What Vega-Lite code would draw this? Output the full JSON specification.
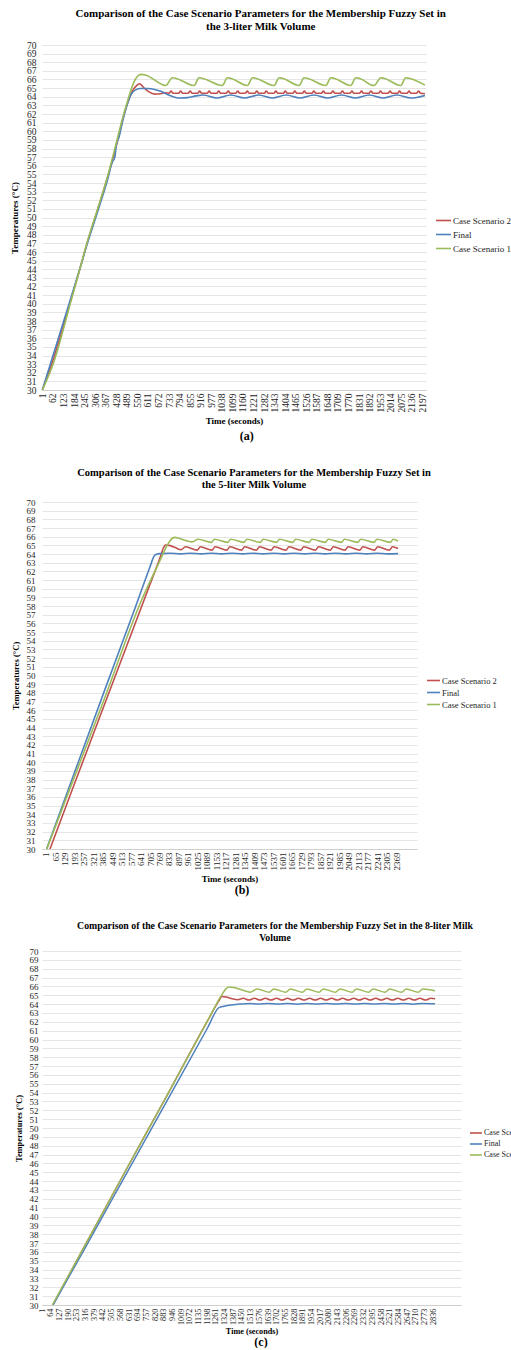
{
  "$schema": "https://vega.github.io/schema/vega-lite/v6.json",
  "background": "white",
  "padding": {"left": 10, "top": 8, "right": 0, "bottom": 0},
  "spacing": 25,
  "config": {
    "font": "Liberation Serif",
    "view": {"stroke": null},
    "title": {"font": "Liberation Serif", "fontWeight": "bold", "color": "black", "anchor": "middle"},
    "axis": {"labelFont": "Liberation Serif", "titleFont": "Liberation Serif", "labelColor": "#262626", "titleColor": "black", "titleFontWeight": "bold"},
    "legend": {"labelFont": "Liberation Serif", "labelColor": "#262626", "symbolType": "stroke", "symbolStrokeWidth": 1.6, "rowPadding": 0, "labelOffset": 1, "padding": 0, "title": null}
  },
  "resolve": {"scale": {"color": "independent"}, "legend": {"color": "independent"}},
  "datasets": {
    "a": [
      {"s":"Case Scenario 2","t":1,"v":30},{"s":"Case Scenario 2","t":60,"v":33.3},{"s":"Case Scenario 2","t":165,"v":40.4},{"s":"Case Scenario 2","t":223,"v":44.4},{"s":"Case Scenario 2","t":261,"v":47.1},{"s":"Case Scenario 2","t":319,"v":50.8},{"s":"Case Scenario 2","t":377,"v":54.6},{"s":"Case Scenario 2","t":415,"v":57.3},{"s":"Case Scenario 2","t":440,"v":59.2},{"s":"Case Scenario 2","t":465,"v":61.3},{"s":"Case Scenario 2","t":492,"v":63.2},{"s":"Case Scenario 2","t":520,"v":64.6},{"s":"Case Scenario 2","t":545,"v":65.3},{"s":"Case Scenario 2","t":563,"v":65.5},{"s":"Case Scenario 2","t":585,"v":65.1},{"s":"Case Scenario 2","t":615,"v":64.6},{"s":"Case Scenario 2","t":650,"v":64.3},{"s":"Case Scenario 2","t":685,"v":64.35},{"s":"Case Scenario 2","t":714,"v":64.45},
      {"s":"Case Scenario 2","t":733,"v":64.4},{"s":"Case Scenario 2","t":745,"v":64.65},{"s":"Case Scenario 2","t":757,"v":64.4},
      {"s":"Case Scenario 2","t":788,"v":64.4},{"s":"Case Scenario 2","t":800,"v":64.65},{"s":"Case Scenario 2","t":812,"v":64.4},
      {"s":"Case Scenario 2","t":843,"v":64.4},{"s":"Case Scenario 2","t":855,"v":64.65},{"s":"Case Scenario 2","t":867,"v":64.4},
      {"s":"Case Scenario 2","t":898,"v":64.4},{"s":"Case Scenario 2","t":910,"v":64.65},{"s":"Case Scenario 2","t":922,"v":64.4},
      {"s":"Case Scenario 2","t":953,"v":64.4},{"s":"Case Scenario 2","t":965,"v":64.65},{"s":"Case Scenario 2","t":977,"v":64.4},
      {"s":"Case Scenario 2","t":1008,"v":64.4},{"s":"Case Scenario 2","t":1020,"v":64.65},{"s":"Case Scenario 2","t":1032,"v":64.4},
      {"s":"Case Scenario 2","t":1063,"v":64.4},{"s":"Case Scenario 2","t":1075,"v":64.65},{"s":"Case Scenario 2","t":1087,"v":64.4},
      {"s":"Case Scenario 2","t":1118,"v":64.4},{"s":"Case Scenario 2","t":1130,"v":64.65},{"s":"Case Scenario 2","t":1142,"v":64.4},
      {"s":"Case Scenario 2","t":1173,"v":64.4},{"s":"Case Scenario 2","t":1185,"v":64.65},{"s":"Case Scenario 2","t":1197,"v":64.4},
      {"s":"Case Scenario 2","t":1228,"v":64.4},{"s":"Case Scenario 2","t":1240,"v":64.65},{"s":"Case Scenario 2","t":1252,"v":64.4},
      {"s":"Case Scenario 2","t":1283,"v":64.4},{"s":"Case Scenario 2","t":1295,"v":64.65},{"s":"Case Scenario 2","t":1307,"v":64.4},
      {"s":"Case Scenario 2","t":1338,"v":64.4},{"s":"Case Scenario 2","t":1350,"v":64.65},{"s":"Case Scenario 2","t":1362,"v":64.4},
      {"s":"Case Scenario 2","t":1393,"v":64.4},{"s":"Case Scenario 2","t":1405,"v":64.65},{"s":"Case Scenario 2","t":1417,"v":64.4},
      {"s":"Case Scenario 2","t":1448,"v":64.4},{"s":"Case Scenario 2","t":1460,"v":64.65},{"s":"Case Scenario 2","t":1472,"v":64.4},
      {"s":"Case Scenario 2","t":1503,"v":64.4},{"s":"Case Scenario 2","t":1515,"v":64.65},{"s":"Case Scenario 2","t":1527,"v":64.4},
      {"s":"Case Scenario 2","t":1558,"v":64.4},{"s":"Case Scenario 2","t":1570,"v":64.65},{"s":"Case Scenario 2","t":1582,"v":64.4},
      {"s":"Case Scenario 2","t":1613,"v":64.4},{"s":"Case Scenario 2","t":1625,"v":64.65},{"s":"Case Scenario 2","t":1637,"v":64.4},
      {"s":"Case Scenario 2","t":1668,"v":64.4},{"s":"Case Scenario 2","t":1680,"v":64.65},{"s":"Case Scenario 2","t":1692,"v":64.4},
      {"s":"Case Scenario 2","t":1723,"v":64.4},{"s":"Case Scenario 2","t":1735,"v":64.65},{"s":"Case Scenario 2","t":1747,"v":64.4},
      {"s":"Case Scenario 2","t":1778,"v":64.4},{"s":"Case Scenario 2","t":1790,"v":64.65},{"s":"Case Scenario 2","t":1802,"v":64.4},
      {"s":"Case Scenario 2","t":1833,"v":64.4},{"s":"Case Scenario 2","t":1845,"v":64.65},{"s":"Case Scenario 2","t":1857,"v":64.4},
      {"s":"Case Scenario 2","t":1888,"v":64.4},{"s":"Case Scenario 2","t":1900,"v":64.65},{"s":"Case Scenario 2","t":1912,"v":64.4},
      {"s":"Case Scenario 2","t":1943,"v":64.4},{"s":"Case Scenario 2","t":1955,"v":64.65},{"s":"Case Scenario 2","t":1967,"v":64.4},
      {"s":"Case Scenario 2","t":1998,"v":64.4},{"s":"Case Scenario 2","t":2010,"v":64.65},{"s":"Case Scenario 2","t":2022,"v":64.4},
      {"s":"Case Scenario 2","t":2053,"v":64.4},{"s":"Case Scenario 2","t":2065,"v":64.65},{"s":"Case Scenario 2","t":2077,"v":64.4},
      {"s":"Case Scenario 2","t":2108,"v":64.4},{"s":"Case Scenario 2","t":2120,"v":64.65},{"s":"Case Scenario 2","t":2132,"v":64.4},
      {"s":"Case Scenario 2","t":2163,"v":64.4},{"s":"Case Scenario 2","t":2175,"v":64.65},{"s":"Case Scenario 2","t":2187,"v":64.4},
      {"s":"Case Scenario 2","t":2212,"v":64.35},
      {"s":"Final","t":1,"v":30},{"s":"Final","t":55,"v":33.5},{"s":"Final","t":160,"v":40.3},{"s":"Final","t":220,"v":44.2},{"s":"Final","t":258,"v":46.8},{"s":"Final","t":316,"v":50.4},{"s":"Final","t":374,"v":54.1},{"s":"Final","t":405,"v":56.4},{"s":"Final","t":420,"v":57.0},{"s":"Final","t":428,"v":58.4},{"s":"Final","t":445,"v":59.4},{"s":"Final","t":465,"v":61.2},{"s":"Final","t":490,"v":63.0},{"s":"Final","t":515,"v":64.3},{"s":"Final","t":540,"v":64.8},{"s":"Final","t":570,"v":64.95},{"s":"Final","t":610,"v":64.95},{"s":"Final","t":650,"v":64.85},{"s":"Final","t":690,"v":64.6},{"s":"Final","t":730,"v":64.2},{"s":"Final","t":765,"v":63.95},{"s":"Final","t":800,"v":63.85},{"s":"Final","t":840,"v":63.9},{"s":"Final","t":890,"v":64.1},{"s":"Final","t":930,"v":64.2},{"s":"Final","t":1010,"v":63.85},{"s":"Final","t":1090,"v":64.2},{"s":"Final","t":1170,"v":63.85},{"s":"Final","t":1250,"v":64.2},{"s":"Final","t":1330,"v":63.85},{"s":"Final","t":1410,"v":64.2},{"s":"Final","t":1490,"v":63.85},{"s":"Final","t":1570,"v":64.2},{"s":"Final","t":1650,"v":63.85},{"s":"Final","t":1730,"v":64.2},{"s":"Final","t":1810,"v":63.85},{"s":"Final","t":1890,"v":64.2},{"s":"Final","t":1970,"v":63.85},{"s":"Final","t":2050,"v":64.2},{"s":"Final","t":2130,"v":63.85},{"s":"Final","t":2212,"v":64.15},
      {"s":"Case Scenario 1","t":1,"v":30},{"s":"Case Scenario 1","t":65,"v":33.1},{"s":"Case Scenario 1","t":165,"v":40.2},{"s":"Case Scenario 1","t":223,"v":44.4},{"s":"Case Scenario 1","t":261,"v":47.2},{"s":"Case Scenario 1","t":319,"v":50.9},{"s":"Case Scenario 1","t":377,"v":54.7},{"s":"Case Scenario 1","t":410,"v":57.2},{"s":"Case Scenario 1","t":434,"v":59.1},{"s":"Case Scenario 1","t":463,"v":61.4},{"s":"Case Scenario 1","t":492,"v":63.4},{"s":"Case Scenario 1","t":515,"v":64.9},{"s":"Case Scenario 1","t":535,"v":65.9},{"s":"Case Scenario 1","t":555,"v":66.45},{"s":"Case Scenario 1","t":575,"v":66.6},{"s":"Case Scenario 1","t":600,"v":66.5},{"s":"Case Scenario 1","t":714,"v":65.3},
      {"s":"Case Scenario 1","t":752,"v":66.2},{"s":"Case Scenario 1","t":770,"v":66.15},{"s":"Case Scenario 1","t":878,"v":65.3},
      {"s":"Case Scenario 1","t":906,"v":66.2},{"s":"Case Scenario 1","t":924,"v":66.15},{"s":"Case Scenario 1","t":1041,"v":65.3},
      {"s":"Case Scenario 1","t":1070,"v":66.2},{"s":"Case Scenario 1","t":1088,"v":66.15},{"s":"Case Scenario 1","t":1186,"v":65.3},
      {"s":"Case Scenario 1","t":1215,"v":66.2},{"s":"Case Scenario 1","t":1233,"v":66.15},{"s":"Case Scenario 1","t":1340,"v":65.3},
      {"s":"Case Scenario 1","t":1369,"v":66.2},{"s":"Case Scenario 1","t":1387,"v":66.15},{"s":"Case Scenario 1","t":1485,"v":65.3},
      {"s":"Case Scenario 1","t":1513,"v":66.2},{"s":"Case Scenario 1","t":1531,"v":66.15},{"s":"Case Scenario 1","t":1639,"v":65.3},
      {"s":"Case Scenario 1","t":1668,"v":66.2},{"s":"Case Scenario 1","t":1686,"v":66.15},{"s":"Case Scenario 1","t":1783,"v":65.3},
      {"s":"Case Scenario 1","t":1812,"v":66.2},{"s":"Case Scenario 1","t":1830,"v":66.15},{"s":"Case Scenario 1","t":1918,"v":65.3},
      {"s":"Case Scenario 1","t":1957,"v":66.2},{"s":"Case Scenario 1","t":1975,"v":66.15},{"s":"Case Scenario 1","t":2072,"v":65.3},
      {"s":"Case Scenario 1","t":2101,"v":66.2},{"s":"Case Scenario 1","t":2119,"v":66.15},{"s":"Case Scenario 1","t":2212,"v":65.35}
    ],
    "b": [
      {"s":"Case Scenario 2","t":28,"v":30},{"s":"Case Scenario 2","t":200,"v":37.8},{"s":"Case Scenario 2","t":400,"v":46.8},{"s":"Case Scenario 2","t":600,"v":55.8},{"s":"Case Scenario 2","t":700,"v":60.3},{"s":"Case Scenario 2","t":779,"v":63.9},{"s":"Case Scenario 2","t":795,"v":64.7},{"s":"Case Scenario 2","t":810,"v":65.05},{"s":"Case Scenario 2","t":835,"v":65.0},{"s":"Case Scenario 2","t":875,"v":64.75},{"s":"Case Scenario 2","t":915,"v":64.5},{"s":"Case Scenario 2","t":945,"v":64.85},
      {"s":"Case Scenario 2","t":1025,"v":64.45},{"s":"Case Scenario 2","t":1045,"v":64.85},{"s":"Case Scenario 2","t":1125,"v":64.45},{"s":"Case Scenario 2","t":1145,"v":64.85},{"s":"Case Scenario 2","t":1225,"v":64.45},{"s":"Case Scenario 2","t":1245,"v":64.85},{"s":"Case Scenario 2","t":1325,"v":64.45},{"s":"Case Scenario 2","t":1345,"v":64.85},{"s":"Case Scenario 2","t":1425,"v":64.45},{"s":"Case Scenario 2","t":1445,"v":64.85},{"s":"Case Scenario 2","t":1525,"v":64.45},{"s":"Case Scenario 2","t":1545,"v":64.85},{"s":"Case Scenario 2","t":1625,"v":64.45},{"s":"Case Scenario 2","t":1645,"v":64.85},{"s":"Case Scenario 2","t":1725,"v":64.45},{"s":"Case Scenario 2","t":1745,"v":64.85},{"s":"Case Scenario 2","t":1825,"v":64.45},{"s":"Case Scenario 2","t":1845,"v":64.85},{"s":"Case Scenario 2","t":1925,"v":64.45},{"s":"Case Scenario 2","t":1945,"v":64.85},{"s":"Case Scenario 2","t":2025,"v":64.45},{"s":"Case Scenario 2","t":2045,"v":64.85},{"s":"Case Scenario 2","t":2125,"v":64.45},{"s":"Case Scenario 2","t":2145,"v":64.85},{"s":"Case Scenario 2","t":2225,"v":64.45},{"s":"Case Scenario 2","t":2245,"v":64.85},{"s":"Case Scenario 2","t":2325,"v":64.45},{"s":"Case Scenario 2","t":2345,"v":64.85},{"s":"Case Scenario 2","t":2383,"v":64.65},
      {"s":"Final","t":5,"v":30},{"s":"Final","t":200,"v":39.1},{"s":"Final","t":400,"v":48.4},{"s":"Final","t":600,"v":57.6},{"s":"Final","t":700,"v":62.3},{"s":"Final","t":734,"v":63.8},{"s":"Final","t":752,"v":64.0},{"s":"Final","t":775,"v":64.05},{"s":"Final","t":840,"v":64.1},{"s":"Final","t":910,"v":64.02},{"s":"Final","t":980,"v":64.1},{"s":"Final","t":1050,"v":64.02},{"s":"Final","t":1120,"v":64.1},{"s":"Final","t":1190,"v":64.02},{"s":"Final","t":1260,"v":64.1},{"s":"Final","t":1330,"v":64.02},{"s":"Final","t":1400,"v":64.1},{"s":"Final","t":1470,"v":64.02},{"s":"Final","t":1540,"v":64.1},{"s":"Final","t":1610,"v":64.02},{"s":"Final","t":1680,"v":64.1},{"s":"Final","t":1750,"v":64.02},{"s":"Final","t":1820,"v":64.1},{"s":"Final","t":1890,"v":64.02},{"s":"Final","t":1960,"v":64.1},{"s":"Final","t":2030,"v":64.02},{"s":"Final","t":2100,"v":64.1},{"s":"Final","t":2170,"v":64.02},{"s":"Final","t":2240,"v":64.1},{"s":"Final","t":2310,"v":64.02},{"s":"Final","t":2383,"v":64.05},
      {"s":"Case Scenario 1","t":6,"v":30},{"s":"Case Scenario 1","t":200,"v":38.6},{"s":"Case Scenario 1","t":400,"v":47.5},{"s":"Case Scenario 1","t":648,"v":58.7},{"s":"Case Scenario 1","t":760,"v":62.8},{"s":"Case Scenario 1","t":835,"v":65.4},{"s":"Case Scenario 1","t":858,"v":65.85},{"s":"Case Scenario 1","t":875,"v":65.92},{"s":"Case Scenario 1","t":900,"v":65.82},{"s":"Case Scenario 1","t":950,"v":65.55},{"s":"Case Scenario 1","t":990,"v":65.4},{"s":"Case Scenario 1","t":1030,"v":65.7},{"s":"Case Scenario 1","t":1120,"v":65.35},{"s":"Case Scenario 1","t":1140,"v":65.7},{"s":"Case Scenario 1","t":1230,"v":65.35},{"s":"Case Scenario 1","t":1250,"v":65.7},{"s":"Case Scenario 1","t":1340,"v":65.35},{"s":"Case Scenario 1","t":1360,"v":65.7},{"s":"Case Scenario 1","t":1450,"v":65.35},{"s":"Case Scenario 1","t":1470,"v":65.7},{"s":"Case Scenario 1","t":1560,"v":65.35},{"s":"Case Scenario 1","t":1580,"v":65.7},{"s":"Case Scenario 1","t":1670,"v":65.35},{"s":"Case Scenario 1","t":1690,"v":65.7},{"s":"Case Scenario 1","t":1780,"v":65.35},{"s":"Case Scenario 1","t":1800,"v":65.7},{"s":"Case Scenario 1","t":1890,"v":65.35},{"s":"Case Scenario 1","t":1910,"v":65.7},{"s":"Case Scenario 1","t":2000,"v":65.35},{"s":"Case Scenario 1","t":2020,"v":65.7},{"s":"Case Scenario 1","t":2110,"v":65.35},{"s":"Case Scenario 1","t":2130,"v":65.7},{"s":"Case Scenario 1","t":2220,"v":65.35},{"s":"Case Scenario 1","t":2240,"v":65.7},{"s":"Case Scenario 1","t":2330,"v":65.35},{"s":"Case Scenario 1","t":2350,"v":65.7},{"s":"Case Scenario 1","t":2383,"v":65.5}
    ],
    "c": [
      {"s":"Case Scenario 2","t":78,"v":30},{"s":"Case Scenario 2","t":300,"v":36.4},{"s":"Case Scenario 2","t":600,"v":45.0},{"s":"Case Scenario 2","t":900,"v":53.5},{"s":"Case Scenario 2","t":1200,"v":62.1},{"s":"Case Scenario 2","t":1280,"v":64.3},{"s":"Case Scenario 2","t":1305,"v":64.85},{"s":"Case Scenario 2","t":1335,"v":64.8},{"s":"Case Scenario 2","t":1380,"v":64.6},{"s":"Case Scenario 2","t":1420,"v":64.5},
      {"s":"Case Scenario 2","t":1460,"v":64.65},{"s":"Case Scenario 2","t":1500,"v":64.45},{"s":"Case Scenario 2","t":1540,"v":64.65},{"s":"Case Scenario 2","t":1580,"v":64.45},{"s":"Case Scenario 2","t":1620,"v":64.65},{"s":"Case Scenario 2","t":1660,"v":64.45},{"s":"Case Scenario 2","t":1700,"v":64.65},{"s":"Case Scenario 2","t":1740,"v":64.45},{"s":"Case Scenario 2","t":1780,"v":64.65},{"s":"Case Scenario 2","t":1820,"v":64.45},{"s":"Case Scenario 2","t":1860,"v":64.65},{"s":"Case Scenario 2","t":1900,"v":64.45},{"s":"Case Scenario 2","t":1940,"v":64.65},{"s":"Case Scenario 2","t":1980,"v":64.45},{"s":"Case Scenario 2","t":2020,"v":64.65},{"s":"Case Scenario 2","t":2060,"v":64.45},{"s":"Case Scenario 2","t":2100,"v":64.65},{"s":"Case Scenario 2","t":2140,"v":64.45},{"s":"Case Scenario 2","t":2180,"v":64.65},{"s":"Case Scenario 2","t":2220,"v":64.45},{"s":"Case Scenario 2","t":2260,"v":64.65},{"s":"Case Scenario 2","t":2300,"v":64.45},{"s":"Case Scenario 2","t":2340,"v":64.65},{"s":"Case Scenario 2","t":2380,"v":64.45},{"s":"Case Scenario 2","t":2420,"v":64.65},{"s":"Case Scenario 2","t":2460,"v":64.45},{"s":"Case Scenario 2","t":2500,"v":64.65},{"s":"Case Scenario 2","t":2540,"v":64.45},{"s":"Case Scenario 2","t":2580,"v":64.65},{"s":"Case Scenario 2","t":2620,"v":64.45},{"s":"Case Scenario 2","t":2660,"v":64.65},{"s":"Case Scenario 2","t":2700,"v":64.45},{"s":"Case Scenario 2","t":2740,"v":64.65},{"s":"Case Scenario 2","t":2780,"v":64.45},{"s":"Case Scenario 2","t":2820,"v":64.65},{"s":"Case Scenario 2","t":2850,"v":64.6},
      {"s":"Final","t":80,"v":30},{"s":"Final","t":300,"v":36.1},{"s":"Final","t":600,"v":44.5},{"s":"Final","t":900,"v":52.9},{"s":"Final","t":1200,"v":61.3},{"s":"Final","t":1283,"v":63.6},{"s":"Final","t":1320,"v":63.75},{"s":"Final","t":1370,"v":63.9},{"s":"Final","t":1430,"v":64.0},{"s":"Final","t":1500,"v":64.08},{"s":"Final","t":1570,"v":64.0},{"s":"Final","t":1640,"v":64.08},{"s":"Final","t":1710,"v":64.0},{"s":"Final","t":1780,"v":64.08},{"s":"Final","t":1850,"v":63.98},{"s":"Final","t":1920,"v":64.08},{"s":"Final","t":1990,"v":64.0},{"s":"Final","t":2060,"v":64.08},{"s":"Final","t":2130,"v":64.0},{"s":"Final","t":2200,"v":64.08},{"s":"Final","t":2270,"v":64.0},{"s":"Final","t":2340,"v":64.08},{"s":"Final","t":2410,"v":64.0},{"s":"Final","t":2480,"v":64.08},{"s":"Final","t":2550,"v":64.0},{"s":"Final","t":2620,"v":64.08},{"s":"Final","t":2690,"v":63.98},{"s":"Final","t":2760,"v":64.08},{"s":"Final","t":2850,"v":64.05},
      {"s":"Case Scenario 1","t":75,"v":30},{"s":"Case Scenario 1","t":300,"v":36.4},{"s":"Case Scenario 1","t":600,"v":45.0},{"s":"Case Scenario 1","t":900,"v":53.5},{"s":"Case Scenario 1","t":1200,"v":62.1},{"s":"Case Scenario 1","t":1300,"v":64.95},{"s":"Case Scenario 1","t":1335,"v":65.75},{"s":"Case Scenario 1","t":1360,"v":65.92},{"s":"Case Scenario 1","t":1390,"v":65.88},{"s":"Case Scenario 1","t":1450,"v":65.6},{"s":"Case Scenario 1","t":1510,"v":65.35},{"s":"Case Scenario 1","t":1560,"v":65.7},{"s":"Case Scenario 1","t":1650,"v":65.35},{"s":"Case Scenario 1","t":1680,"v":65.7},{"s":"Case Scenario 1","t":1770,"v":65.35},{"s":"Case Scenario 1","t":1800,"v":65.7},{"s":"Case Scenario 1","t":1890,"v":65.35},{"s":"Case Scenario 1","t":1920,"v":65.7},{"s":"Case Scenario 1","t":2010,"v":65.35},{"s":"Case Scenario 1","t":2040,"v":65.7},{"s":"Case Scenario 1","t":2130,"v":65.35},{"s":"Case Scenario 1","t":2160,"v":65.7},{"s":"Case Scenario 1","t":2250,"v":65.35},{"s":"Case Scenario 1","t":2280,"v":65.7},{"s":"Case Scenario 1","t":2370,"v":65.35},{"s":"Case Scenario 1","t":2400,"v":65.7},{"s":"Case Scenario 1","t":2490,"v":65.35},{"s":"Case Scenario 1","t":2520,"v":65.7},{"s":"Case Scenario 1","t":2610,"v":65.35},{"s":"Case Scenario 1","t":2640,"v":65.7},{"s":"Case Scenario 1","t":2730,"v":65.35},{"s":"Case Scenario 1","t":2760,"v":65.7},{"s":"Case Scenario 1","t":2850,"v":65.5}
    ]
  },
  "vconcat": [
    {
      "title": {"text": "(a)", "orient": "bottom", "anchor": "middle", "fontSize": 12, "offset": 6, "frame": "bounds", "dx": -14},
      "resolve": {"scale": {"color": "independent"}, "legend": {"color": "independent"}},
      "vconcat": [
        {
          "width": 384, "height": 345,
          "title": {"text": ["Comparison of the Case Scenario Parameters for the Membership Fuzzy Set in", "the 3-liter Milk Volume"], "anchor": "middle", "fontSize": 11, "lineHeight": 13, "offset": 8, "frame": "bounds"},
          "data": {"name": "a"},
          "mark": {"type": "line", "strokeWidth": 1.6, "interpolate": "monotone"},
          "encoding": {
            "x": {"field": "t", "type": "quantitative", "scale": {"domain": [-1, 2218], "nice": false, "zero": false},
              "axis": {"values": [1,62,123,184,245,306,367,428,489,550,611,672,733,794,855,916,977,1038,1099,1160,1221,1282,1343,1404,1465,1526,1587,1648,1709,1770,1831,1892,1953,2014,2075,2136,2197],
                "format": "d", "labelAngle": -90, "labelOverlap": false, "labelBound": false, "labelFlush": false, "labelFont": "Liberation Serif", "labelFontSize": 9.5, "labelPadding": 3,
                "grid": false, "ticks": false, "domain": true, "domainColor": "#cfcfcf", "domainWidth": 1.2,
                "title": "Time (seconds)", "titleFont": "Liberation Serif", "titleFontSize": 9, "titlePadding": 4}},
            "y": {"field": "v", "type": "quantitative", "scale": {"domain": [30, 70], "nice": false, "zero": false},
              "axis": {"values": [30,31,32,33,34,35,36,37,38,39,40,41,42,43,44,45,46,47,48,49,50,51,52,53,54,55,56,57,58,59,60,61,62,63,64,65,66,67,68,69,70],
                "format": "d", "labelOverlap": false, "labelFont": "Liberation Serif", "labelFontSize": 9.5, "labelPadding": 6, "grid": true, "gridColor": "#dedede", "gridWidth": 0.8,
                "ticks": false, "domain": false, "title": "Temperatures (°C)", "titleFont": "Liberation Serif", "titleFontSize": 9, "titlePadding": 7}},
            "color": {"field": "s", "type": "nominal",
              "scale": {"domain": ["Case Scenario 2", "Final", "Case Scenario 1"], "range": ["#C0504D", "#4F81BD", "#9BBB59"]},
              "legend": {"orient": "none", "legendX": 393, "legendY": 167, "labelFont": "Liberation Serif", "labelFontSize": 9, "symbolSize": 225}}
          }
        }
      ]
    },
    {
      "title": {"text": "(b)", "orient": "bottom", "anchor": "middle", "fontSize": 12, "offset": 2, "frame": "bounds", "dx": -12},
      "resolve": {"scale": {"color": "independent"}, "legend": {"color": "independent"}},
      "vconcat": [
        {
          "width": 375, "height": 347,
          "title": {"text": ["Comparison of the Case Scenario Parameters for the Membership Fuzzy Set in", "the 5-liter Milk Volume"], "anchor": "middle", "fontSize": 10.5, "lineHeight": 12, "offset": 8, "frame": "bounds"},
          "data": {"name": "b"},
          "mark": {"type": "line", "strokeWidth": 1.6, "interpolate": "monotone"},
          "encoding": {
            "x": {"field": "t", "type": "quantitative", "scale": {"domain": [-26, 2511], "nice": false, "zero": false},
              "axis": {"values": [1,65,129,193,257,321,385,449,513,577,641,705,769,833,897,961,1025,1089,1153,1217,1281,1345,1409,1473,1537,1601,1665,1729,1793,1857,1921,1985,2049,2113,2177,2241,2305,2369],
                "format": "d", "labelAngle": -90, "labelOverlap": false, "labelBound": false, "labelFlush": false, "labelFont": "Liberation Serif", "labelFontSize": 9, "labelPadding": 3,
                "grid": false, "ticks": false, "domain": true, "domainColor": "#cfcfcf", "domainWidth": 1.2,
                "title": "Time (seconds)", "titleFont": "Liberation Serif", "titleFontSize": 8.8, "titlePadding": 4}},
            "y": {"field": "v", "type": "quantitative", "scale": {"domain": [30, 70], "nice": false, "zero": false},
              "axis": {"values": [30,31,32,33,34,35,36,37,38,39,40,41,42,43,44,45,46,47,48,49,50,51,52,53,54,55,56,57,58,59,60,61,62,63,64,65,66,67,68,69,70],
                "format": "d", "labelOverlap": false, "labelFont": "Liberation Serif", "labelFontSize": 9, "labelPadding": 7, "grid": true, "gridColor": "#dedede", "gridWidth": 0.8,
                "ticks": false, "domain": false, "title": "Temperatures (°C)", "titleFont": "Liberation Serif", "titleFontSize": 8.6, "titlePadding": 6}},
            "color": {"field": "s", "type": "nominal",
              "scale": {"domain": ["Case Scenario 2", "Final", "Case Scenario 1"], "range": ["#C0504D", "#4F81BD", "#9BBB59"]},
              "legend": {"orient": "none", "legendX": 384, "legendY": 171, "labelFont": "Liberation Serif", "labelFontSize": 8.5, "symbolSize": 169}}
          }
        }
      ]
    },
    {
      "title": {"text": "(c)", "orient": "bottom", "anchor": "middle", "fontSize": 12, "offset": 2, "frame": "bounds", "dx": -14},
      "resolve": {"scale": {"color": "independent"}, "legend": {"color": "independent"}},
      "vconcat": [
        {
          "width": 419, "height": 354,
          "title": {"text": ["Comparison of the Case Scenario Parameters for the Membership Fuzzy Set in the 8-liter Milk", "Volume"], "anchor": "middle", "fontSize": 9.8, "lineHeight": 12, "offset": 4, "frame": "bounds"},
          "data": {"name": "c"},
          "mark": {"type": "line", "strokeWidth": 1.5, "interpolate": "monotone"},
          "encoding": {
            "x": {"field": "t", "type": "quantitative", "scale": {"domain": [0, 3038], "nice": false, "zero": false},
              "axis": {"values": [1,64,127,190,253,316,379,442,505,568,631,694,757,820,883,946,1009,1072,1135,1198,1261,1324,1387,1450,1513,1576,1639,1702,1765,1828,1891,1954,2017,2080,2143,2206,2269,2332,2395,2458,2521,2584,2647,2710,2773,2836],
                "format": "d", "labelAngle": -90, "labelOverlap": false, "labelBound": false, "labelFlush": false, "labelFont": "Liberation Serif", "labelFontSize": 8.3, "labelPadding": 3,
                "grid": false, "ticks": false, "domain": true, "domainColor": "#cfcfcf", "domainWidth": 1.2,
                "title": "Time (seconds)", "titleFont": "Liberation Serif", "titleFontSize": 8.2, "titlePadding": 3}},
            "y": {"field": "v", "type": "quantitative", "scale": {"domain": [30, 70], "nice": false, "zero": false},
              "axis": {"values": [30,31,32,33,34,35,36,37,38,39,40,41,42,43,44,45,46,47,48,49,50,51,52,53,54,55,56,57,58,59,60,61,62,63,64,65,66,67,68,69,70],
                "format": "d", "labelOverlap": false, "labelFont": "Liberation Serif", "labelFontSize": 9, "labelPadding": 4, "grid": true, "gridColor": "#dedede", "gridWidth": 0.8,
                "ticks": false, "domain": false, "title": "Temperatures (°C)", "titleFont": "Liberation Serif", "titleFontSize": 8.4, "titlePadding": 6}},
            "color": {"field": "s", "type": "nominal",
              "scale": {"domain": ["Case Scenario 2", "Final", "Case Scenario 1"], "range": ["#C0504D", "#4F81BD", "#9BBB59"]},
              "legend": {"orient": "none", "legendX": 427, "legendY": 175, "labelFont": "Liberation Serif", "labelFontSize": 8, "symbolSize": 144}}
          }
        }
      ]
    }
  ]
}
